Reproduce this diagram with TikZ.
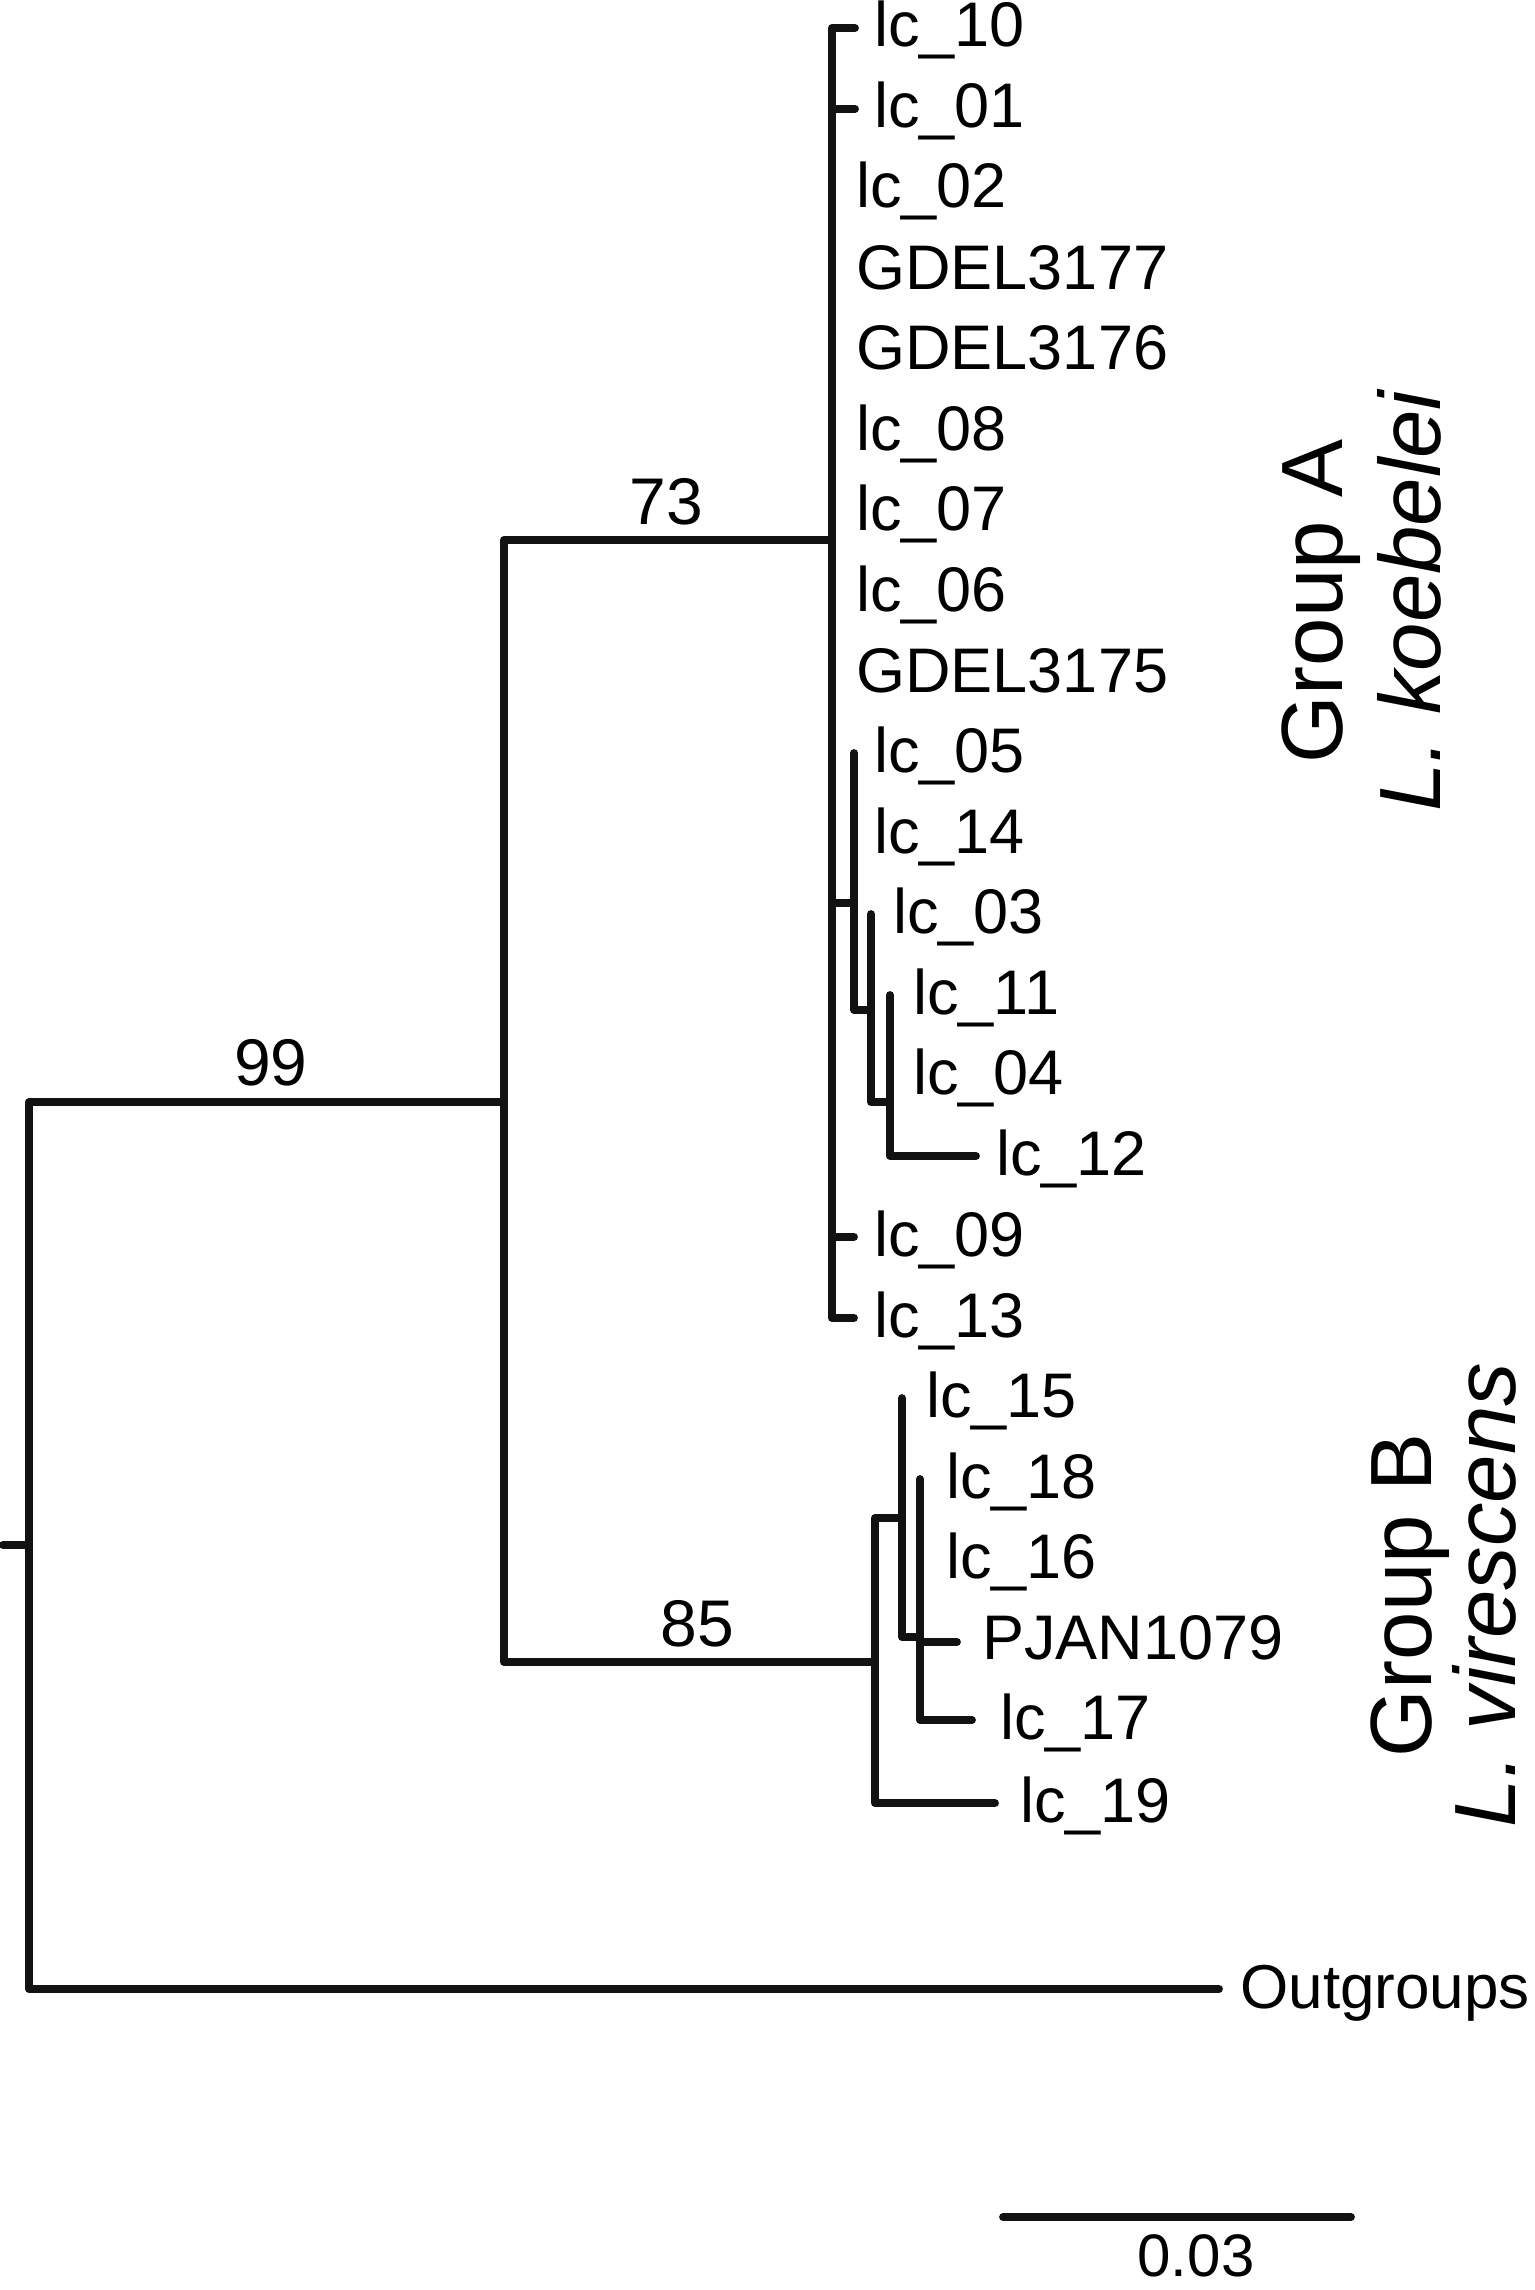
\documentclass[tikz,border=0pt]{standalone}
\usepackage{fontspec}
\setmainfont{Liberation Sans}
\usetikzlibrary{calc}
\tikzset{
  br/.style={line width=3.9pt, line cap=round, line join=round, black!93},
  lab/.style={anchor=base west, inner sep=0pt, font=\fontsize{31.5pt}{31.5pt}\selectfont},
  outlab/.style={anchor=base west, inner sep=0pt, font=\fontsize{31pt}{31pt}\selectfont},
  boot/.style={anchor=base, inner sep=0pt, font=\fontsize{33pt}{33pt}\selectfont},
  grp/.style={anchor=base, inner sep=0pt, rotate=90, font=\fontsize{43.5pt}{43.5pt}\selectfont},
  sbl/.style={anchor=base, inner sep=0pt, font=\fontsize{30pt}{30pt}\selectfont}
}
\begin{document}
\begin{tikzpicture}[x=0.5pt, y=-0.5pt]
\useasboundingbox (0,0) rectangle (1535,2290);
% internal nodes
\coordinate (rs) at (3,1545);
\coordinate (root) at (29,1545);
\coordinate (n1) at (504,1102);
\coordinate (nA) at (832,540);
\coordinate (nB) at (875,1662);
\coordinate (s1) at (854,903);
\coordinate (s2) at (871,1010);
\coordinate (s3) at (890,1102);
\coordinate (b1) at (902,1518);
\coordinate (b2) at (920,1637);
% tips
\coordinate (tout) at (1219,1989);
\coordinate (t10) at (855,28);
\coordinate (t01) at (855,109);
\coordinate (t02) at (834,189);
\coordinate (tG77) at (834,270);
\coordinate (tG76) at (834,350);
\coordinate (t08) at (834,431);
\coordinate (t07) at (834,511);
\coordinate (t06) at (834,592);
\coordinate (tG75) at (834,673);
\coordinate (t05) at (854,753);
\coordinate (t14) at (854,834);
\coordinate (t03) at (871,914);
\coordinate (t11) at (890,995);
\coordinate (t04) at (890,1075);
\coordinate (t12) at (976,1156);
\coordinate (t09) at (854,1237);
\coordinate (t13) at (854,1318);
\coordinate (t15) at (902,1398);
\coordinate (t18) at (920,1479);
\coordinate (t16) at (920,1559);
\coordinate (tPJ) at (957,1642);
\coordinate (t17) at (972,1720);
\coordinate (t19) at (995,1803);
% branches
\draw[br] (rs) -- (root);
\draw[br] (n1) -| (root) |- (tout);
\draw[br] (nA) -| (n1) |- (nB);
\draw[br] (t10) -| (nA) |- (t13);
\draw[br] (t01 -| nA) -- (t01);
\draw[br] (s1 -| nA) -- (s1);
\draw[br] (t09 -| nA) -- (t09);
\draw[br] (t05) |- (s2);
\draw[br] (t03) |- (s3);
\draw[br] (t11) |- (t12);
\draw[br] (b1) -| (nB) |- (t19);
\draw[br] (t15) |- (b2);
\draw[br] (t18) |- (t17);
\draw[br] (tPJ -| b2) -- (tPJ);
% leaf labels
\node[lab] (L10) at ($(t10)+(19,19)$) {lc\_10};
\node[lab] (L01) at ($(t01)+(19,19)$) {lc\_01};
\node[lab] (L02) at ($(t02)+(22,19)$) {lc\_02};
\node[lab] (LG77) at ($(tG77)+(22,19)$) {GDEL3177};
\node[lab] (LG76) at ($(tG76)+(22,19)$) {GDEL3176};
\node[lab] (L08) at ($(t08)+(22,19)$) {lc\_08};
\node[lab] (L07) at ($(t07)+(22,19)$) {lc\_07};
\node[lab] (L06) at ($(t06)+(22,19)$) {lc\_06};
\node[lab] (LG75) at ($(tG75)+(22,19)$) {GDEL3175};
\node[lab] (L05) at ($(t05)+(20,19)$) {lc\_05};
\node[lab] (L14) at ($(t14)+(20,19)$) {lc\_14};
\node[lab] (L03) at ($(t03)+(22,19)$) {lc\_03};
\node[lab] (L11) at ($(t11)+(23,19)$) {lc\_11};
\node[lab] (L04) at ($(t04)+(23,19)$) {lc\_04};
\node[lab] (L12) at ($(t12)+(20,19)$) {lc\_12};
\node[lab] (L09) at ($(t09)+(20,19)$) {lc\_09};
\node[lab] (L13) at ($(t13)+(20,19)$) {lc\_13};
\node[lab] (L15) at ($(t15)+(24,19)$) {lc\_15};
\node[lab] (L18) at ($(t18)+(26,19)$) {lc\_18};
\node[lab] (L16) at ($(t16)+(26,19)$) {lc\_16};
\node[lab] (LPJ) at ($(tPJ)+(25,17)$) {PJAN1079};
\node[lab] (L17) at ($(t17)+(28,19)$) {lc\_17};
\node[lab] (L19) at ($(t19)+(25,19)$) {lc\_19};
\node[outlab] (Lout) at ($(tout)+(21,19)$) {Outgroups};
% bootstrap values
\node[boot] (b99) at (271,1085) {99};
\node[boot] (b73) at (666,524) {73};
\node[boot] (b85) at (697,1646) {85};
% group labels
\node[grp] (gA) at (1342,601) {Group A};
\node[grp] (spA) at (1440,601) {\itshape L. koebelei};
\node[grp] (gB) at (1431,1595) {Group B};
\node[grp] (spB) at (1515,1595) {\itshape L. virescens};
% scale bar
\coordinate (sb1) at (1003,2217);
\coordinate (sb2) at (1351,2217);
\draw[br] (sb1) -- (sb2);
\node[sbl] (sbt) at (1196,2276) {0.03};
\end{tikzpicture}
\end{document}
